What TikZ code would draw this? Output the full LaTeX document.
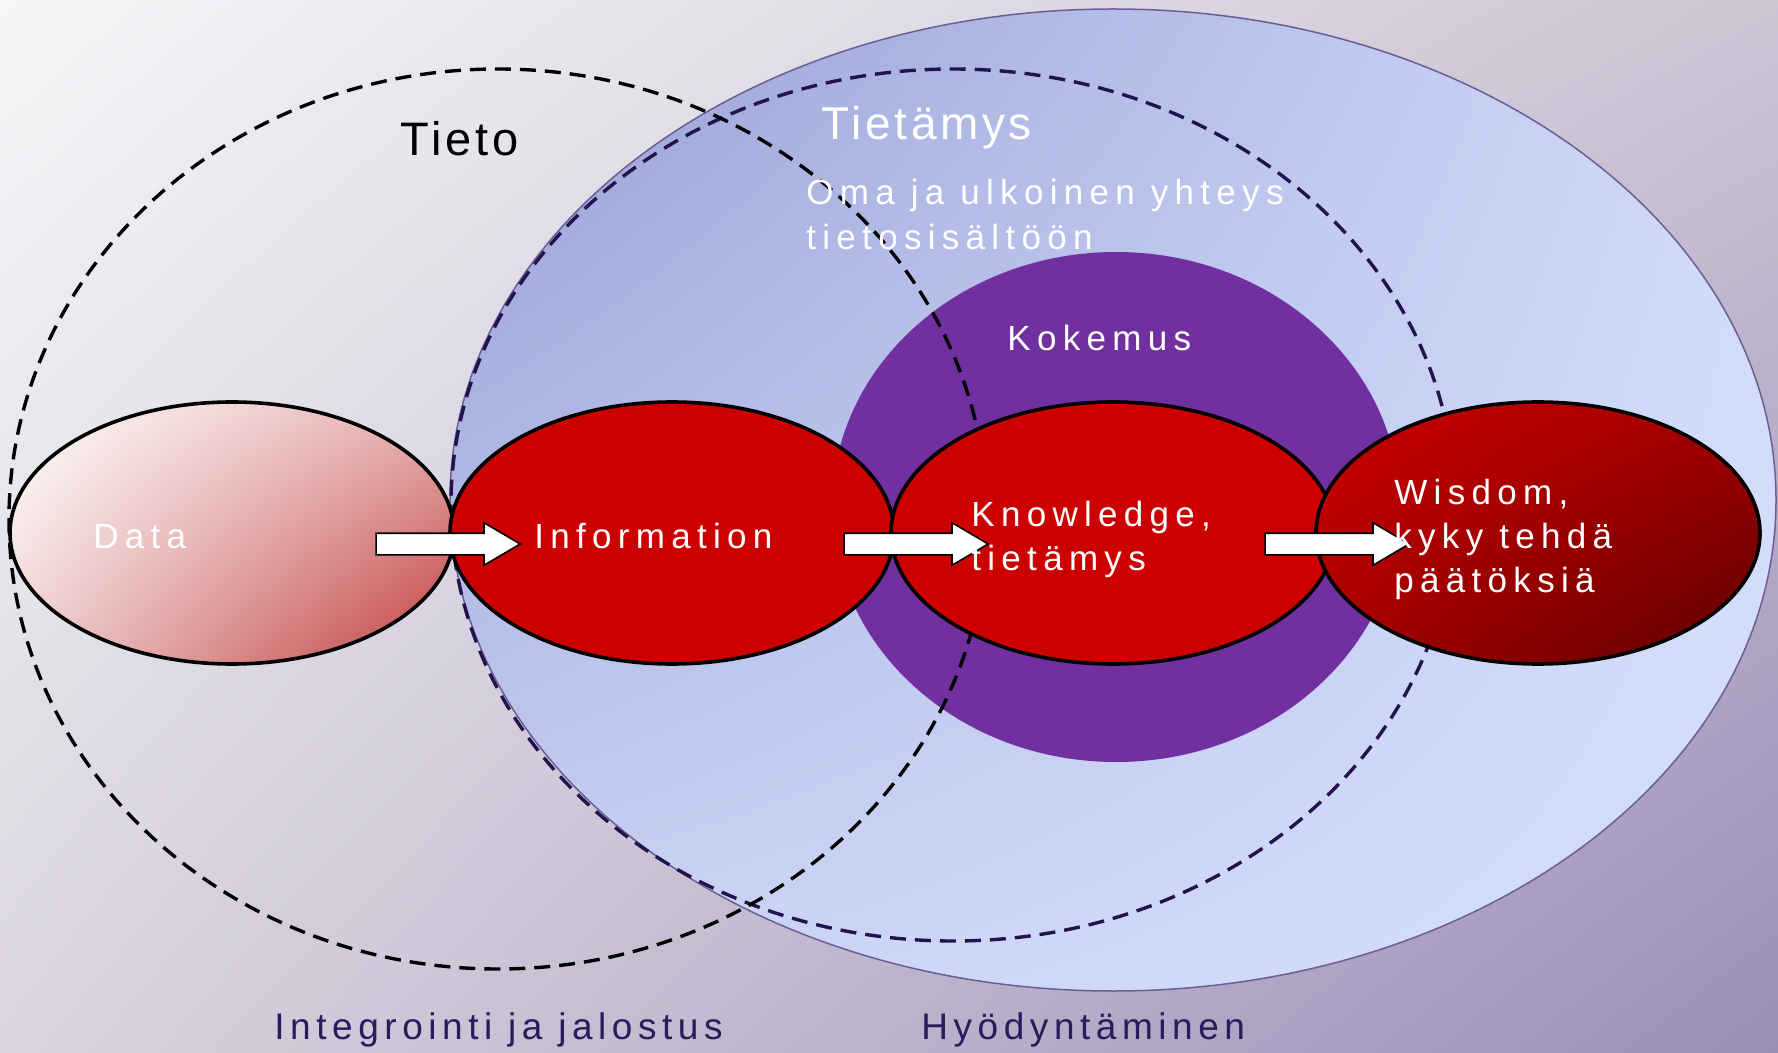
\documentclass[tikz,border=0pt]{standalone}
\usepackage{fontspec}
\setmainfont{Liberation Sans}
\newfontfamily\bodyfont{Liberation Sans}[LetterSpace=18]
\newfontfamily\titlefont{Liberation Sans}[LetterSpace=8]
\newfontfamily\footfont{Liberation Sans}[LetterSpace=15]
\usetikzlibrary{shapes.geometric,shapes.arrows,shadings}

\definecolor{bgUL}{HTML}{F6F6F8}
\definecolor{bgUR}{HTML}{CCC5D4}
\definecolor{bgLL}{HTML}{DAD5DF}
\definecolor{bgLR}{HTML}{9A8DB7}
\definecolor{skyUL}{HTML}{959CD3}
\definecolor{skyUR}{HTML}{D2DBFA}
\definecolor{skyLL}{HTML}{CBD3F5}
\definecolor{skyLR}{HTML}{D5DFFD}
\definecolor{skyRim}{HTML}{6B5E96}
\definecolor{kokemus}{HTML}{7030A0}
\definecolor{infored}{HTML}{CC0000}
\definecolor{navy}{HTML}{22124E}
\definecolor{labelnavy}{HTML}{2B1A5C}
\definecolor{dataUR}{HTML}{E6B0B0}
\definecolor{dataLL}{HTML}{EFD2D2}
\definecolor{dataLR}{HTML}{C03B3C}
\definecolor{wiUL}{HTML}{CC0000}
\definecolor{wiUR}{HTML}{A30000}
\definecolor{wiLL}{HTML}{A80000}
\definecolor{wiLR}{HTML}{5C0000}

\begin{document}
\begin{tikzpicture}[x=0.5pt,y=-0.5pt,
  stage/.style={ellipse, draw=black, line width=1.8pt, inner sep=0pt,
    minimum width=222pt, minimum height=131pt},
  zone/.style={ellipse, inner sep=0pt},
  ring/.style={ellipse, inner sep=0pt, line width=1.7pt, dash pattern=on 8pt off 4.5pt},
  flowarrow/.style={single arrow, draw=black, fill=white, line width=0.8pt,
    inner xsep=0pt, inner ysep=5pt, minimum height=72pt, minimum width=20.5pt,
    single arrow head extend=5.25pt, single arrow tip angle=61,
    single arrow head indent=0pt},
  inlabel/.style={anchor=base west, inner sep=0pt, text=white,
    font=\bodyfont\fontsize{17.5pt}{22pt}\selectfont},
  title/.style={anchor=base west, inner sep=0pt},
  footlabel/.style={anchor=base west, inner sep=0pt, text=labelnavy,
    font=\footfont\fontsize{18.5pt}{22pt}\selectfont}]

\useasboundingbox (0,0) rectangle (1778,1053);

% background
\shade[upper left=bgUL, upper right=bgUR, lower left=bgLL, lower right=bgLR]
  (0,0) rectangle (1778,1053);

% application area and experience
\node[zone, draw=skyRim, line width=0.75pt, minimum width=663pt, minimum height=491pt,
  upper left=skyUL, upper right=skyUR, lower left=skyLL, lower right=skyLR]
  (sky) at (1113,500) {};
\node[zone, fill=kokemus, minimum width=284pt, minimum height=255pt]
  (exp) at (1116,507) {};

% dashed domains
\node[ring, draw=navy, minimum width=502pt, minimum height=436pt] (knowring) at (953,505) {};
\node[ring, draw=black, minimum width=489pt, minimum height=450pt] (inforing) at (498,519) {};

% the four stages
\node[stage, upper left=white, upper right=dataUR, lower left=dataLL, lower right=dataLR]
  (data) at (232,533) {};
\node[stage, fill=infored] (info) at (672,533) {};
\node[stage, fill=infored] (know) at (1113,533) {};
\node[stage, upper left=wiUL, upper right=wiUR, lower left=wiLL, lower right=wiLR]
  (wis) at (1538,533) {};

% transitions
\node[flowarrow] (a1) at (439,544) {};
\node[flowarrow] (a2) at (907,544) {};
\node[flowarrow] (a3) at (1328,544) {};

% texts
\node[title, font=\titlefont\fontsize{23.5pt}{28pt}\selectfont, text=black]
  (ttieto) at (400,156) {Tieto};
\node[title, font=\titlefont\fontsize{23pt}{28pt}\selectfont, text=white]
  (ttietamys) at (821,140) {Tietämys};
\node[inlabel] (oma1) at (806,205) {Oma ja ulkoinen yhteys};
\node[inlabel] (oma2) at (806,250) {tietosisältöön};
\node[inlabel] (tkok) at (1007,351) {Kokemus};
\node[inlabel] (tdata) at (93,548) {Data};
\node[inlabel] (tinfo) at (534,548) {Information};
\node[inlabel] (tknow1) at (971,526) {Knowledge,};
\node[inlabel] (tknow2) at (971,570) {tietämys};
\node[inlabel] (twis1) at (1394,504) {Wisdom,};
\node[inlabel] (twis2) at (1394,548) {kyky tehdä};
\node[inlabel] (twis3) at (1394,592) {päätöksiä};
\node[footlabel] (tint) at (274,1039) {Integrointi ja jalostus};
\node[footlabel] (thyo) at (921,1039) {Hyödyntäminen};
\end{tikzpicture}
\end{document}
